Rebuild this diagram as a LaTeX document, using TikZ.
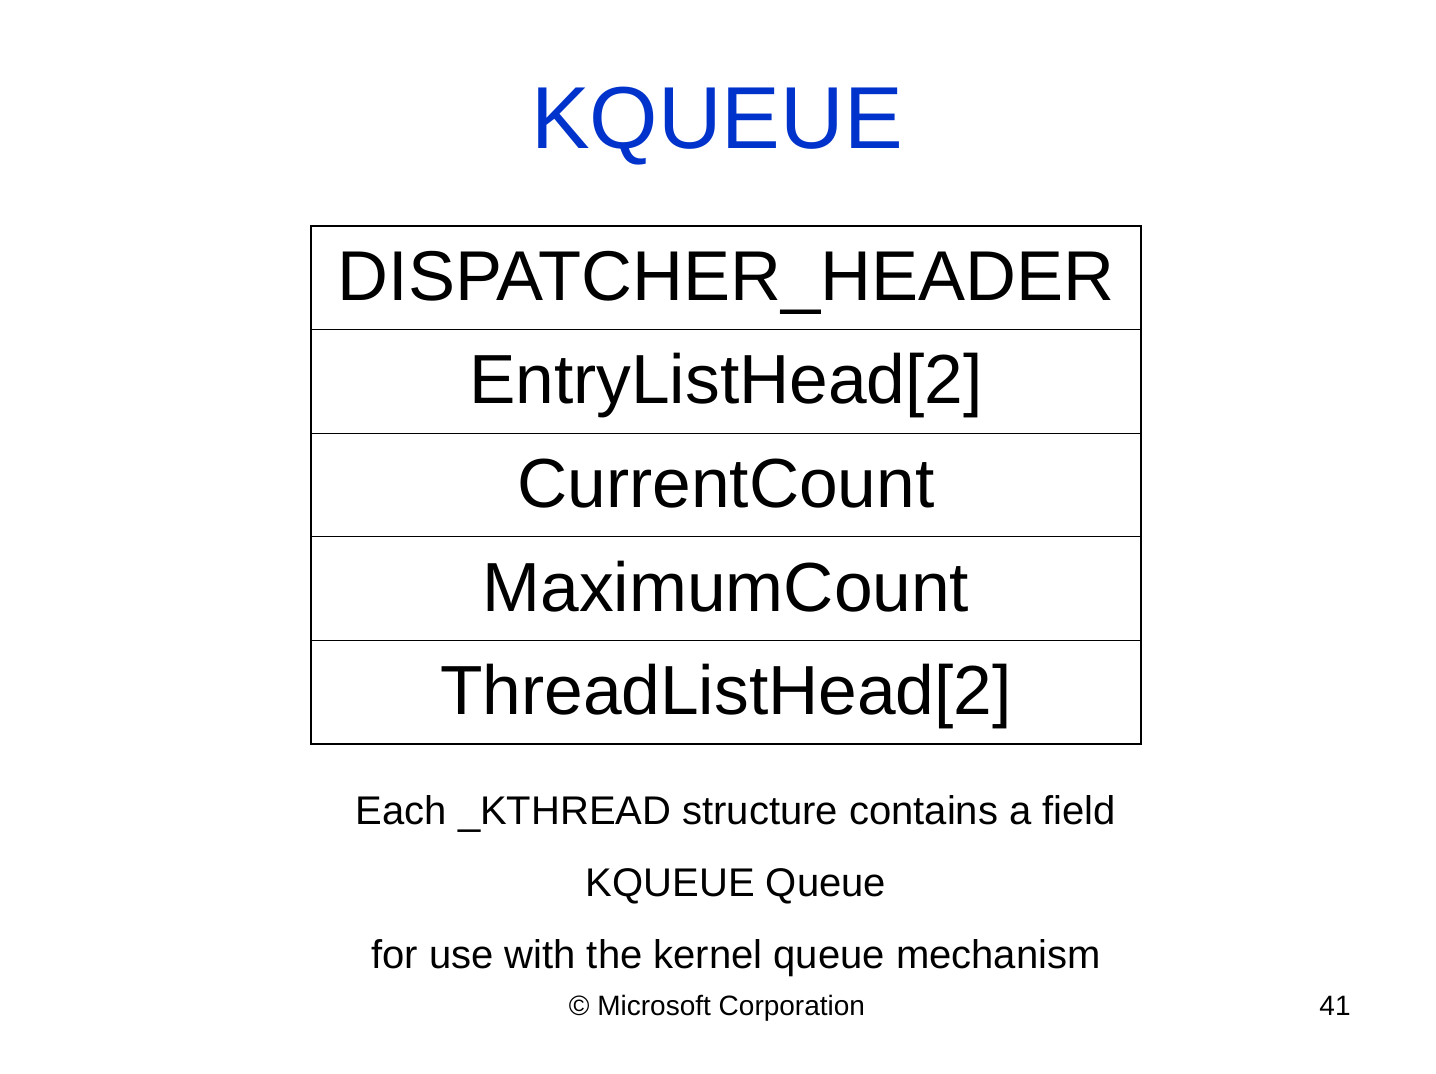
\documentclass[tikz,border=0pt]{standalone}
\usepackage{fontspec}
\setmainfont{Liberation Sans}
\definecolor{titleblue}{RGB}{0,51,204}
\begin{document}
\begin{tikzpicture}[x=1pt,y=-1pt,
  rowbox/.style={draw, line width=1.1pt, minimum width=830pt, minimum height=103.6pt, inner sep=0pt,
    font=\fontsize{69.5}{69.5}\selectfont, text height=49pt, text depth=4pt},
  bodytext/.style={anchor=base, inner sep=0pt, font=\fontsize{40}{40}\selectfont},
  foottext/.style={anchor=base, inner sep=0pt, font=\fontsize{28}{28}\selectfont}]
\useasboundingbox[fill=white] (0,0) rectangle (1436,1074);
\node[anchor=base, inner sep=0pt, text=titleblue, font=\fontsize{88}{88}\selectfont] (title) at (717,148) {KQUEUE};
\node[rowbox, font=\fontsize{70.5}{70.5}\selectfont] (r1) at (726,277.8) {DISPATCHER\_HEADER};
\node[rowbox] (r2) at (726,381.4) {EntryListHead[2]};
\node[rowbox] (r3) at (726,485.0) {CurrentCount};
\node[rowbox] (r4) at (726,588.6) {MaximumCount};
\node[rowbox] (r5) at (726,692.2) {ThreadListHead[2]};
\node[bodytext] (t1) at (736,824) {Each \_KTHREAD structure contains a field};
\node[bodytext] (t2) at (736,896) {KQUEUE Queue};
\node[bodytext] (t3) at (736,968) {for use with the kernel queue mechanism};
\node[foottext] (copy) at (717,1015) {© Microsoft Corporation};
\node[foottext] (page) at (1335,1015) {41};
\end{tikzpicture}
\end{document}
